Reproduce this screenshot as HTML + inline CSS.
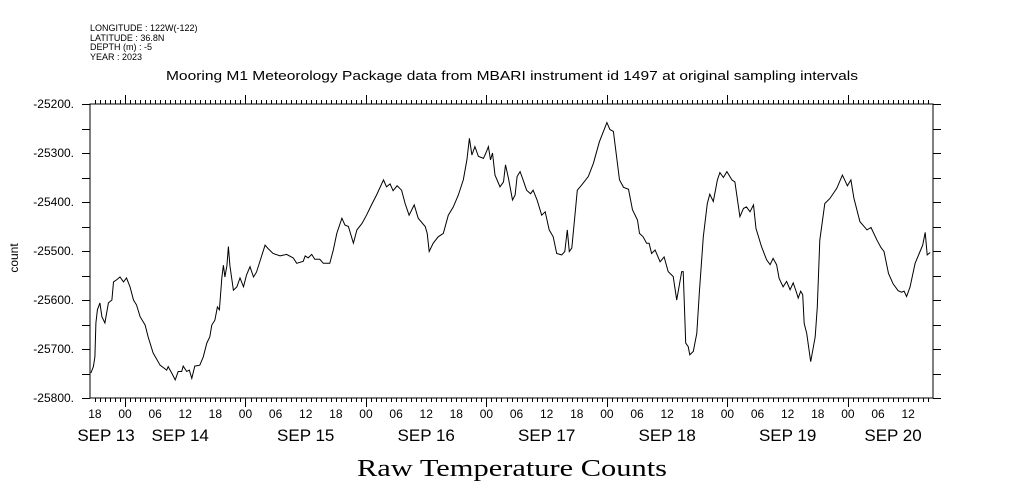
<!DOCTYPE html>
<html><head><meta charset="utf-8"><style>
html,body{margin:0;padding:0;background:#fff;}
svg{display:block;}
text{font-family:"Liberation Sans",sans-serif;fill:#000;}
</style></head><body>
<svg id="chart" width="1009" height="504" viewBox="0 0 1009 504" xmlns="http://www.w3.org/2000/svg">
<g font-size="9">
<text x="90" y="31">LONGITUDE : 122W(-122)</text>
<text x="90" y="41">LATITUDE : 36.8N</text>
<text x="90" y="50">DEPTH (m) : -5</text>
<text x="90" y="60">YEAR : 2023</text>
</g>
<text x="166" y="80" font-size="12.5" textLength="692" lengthAdjust="spacingAndGlyphs">Mooring M1 Meteorology Package data from MBARI instrument id 1497 at original sampling intervals</text>
<text transform="translate(18,258) rotate(-90)" text-anchor="middle" font-size="12">count</text>
<text x="512" y="476" text-anchor="middle" font-size="24" textLength="310" lengthAdjust="spacingAndGlyphs" style="font-family:'Liberation Serif',serif">Raw Temperature Counts</text>
<g id="axes"></g>
<g id="series"></g>
</svg>
<script>
const hours = [-6.8,-6.3,-6.0,-5.8,-5.5,-5.0,-4.6,-4.0,-3.3,-2.6,
-2.3,-1.7,-1.0,-0.3,0.3,1.0,1.7,2.3,3.0,4.0,
4.6,5.6,7.0,8.3,8.6,9.3,10.0,10.6,11.3,11.6,
12.3,12.8,13.3,13.9,14.9,15.6,16.3,16.9,17.3,17.9,
18.4,18.8,19.3,19.6,19.9,20.3,20.6,20.9,21.6,22.3,
22.9,23.6,24.2,24.9,25.6,26.2,27.2,27.9,28.5,29.5,
30.9,32.2,33.5,34.2,35.5,35.9,36.5,37.2,37.8,38.8,
39.5,40.8,41.5,42.2,43.2,43.8,44.5,45.5,46.2,
47.2,48.1,49.1,50.1,51.5,52.1,52.8,53.4,54.2,55.1,
55.8,56.6,57.6,58.4,59.8,60.2,60.6,61.4,62.4,63.4,
64.4,65.4,66.4,67.4,68.1,68.6,69.1,69.7,70.4,71.4,
71.9,72.4,72.8,73.2,73.7,74.7,75.4,75.8,76.4,77.2,
77.7,78.1,78.7,79.3,80.0,80.8,81.3,82.1,83.0,83.7,
84.5,85.3,86.0,87.0,87.6,88.1,88.5,89.0,89.6,90.1,
91.0,92.3,93.3,94.5,96.0,96.6,97.3,98.5,99.3,100.3,
101.1,102.1,
102.5,103.2,103.9,104.4,104.9,105.6,106.6,107.4,108.2,109.2,
109.9,110.9,111.2,111.7,112.2,112.5,113.2,113.9,114.4,115.2,
116.0,116.5,117.2,118.0,118.5,119.2,119.9,120.9,121.5,122.5,
123.2,123.8,124.5,125.2,125.7,126.8,127.8,128.5,129.1,129.8,
130.3,131.1,131.8,132.5,133.1,133.8,134.1,134.6,135.0,135.3,
135.8,136.6,137.5,137.9,138.4,139.4,140.4,141.8,142.9,143.9,
144.6,145.2,146.4,147.8,148.6,149.8,150.6,151.2,152.1,153.0,
154.0,154.7,155.2,155.7,156.4,157.4,158.2,158.9,159.4,159.8,
160.4];
const counts = [-25749,-25736,-25716,-25647,-25620,-25606,-25634,-25647,-25606,-25600,
-25563,-25559,-25553,-25563,-25555,-25573,-25600,-25610,-25634,-25651,
-25675,-25708,-25733,-25743,-25736,-25749,-25763,-25746,-25746,-25735,
-25746,-25743,-25760,-25735,-25733,-25716,-25688,-25675,-25651,-25641,
-25614,-25620,-25553,-25529,-25553,-25530,-25491,-25530,-25580,-25573,
-25555,-25573,-25549,-25532,-25553,-25543,-25511,-25488,-25495,-25505,
-25510,-25507,-25514,-25525,-25521,-25510,-25514,-25507,-25517,-25517,
-25525,-25525,-25498,-25464,-25433,-25447,-25450,-25484,-25457,
-25444,-25427,-25406,-25386,-25355,-25369,-25363,-25377,-25367,-25376,
-25403,-25427,-25406,-25433,-25450,-25464,-25501,-25484,-25471,-25464,
-25427,-25410,-25386,-25355,-25314,-25270,-25304,-25287,-25307,-25311,
-25300,-25287,-25314,-25300,-25345,-25369,-25359,-25324,-25352,-25396,
-25386,-25348,-25338,-25355,-25376,-25383,-25376,-25396,-25427,-25420,
-25457,-25471,-25505,-25508,-25501,-25457,-25501,-25494,-25430,-25376,
-25365,-25348,-25321,-25277,-25238,-25252,-25256,-25355,-25370,-25374,
-25416,-25437,
-25464,-25471,-25484,-25484,-25505,-25498,-25522,-25512,-25542,-25552,
-25600,-25542,-25542,-25688,-25695,-25712,-25705,-25668,-25586,-25471,
-25403,-25384,-25399,-25355,-25340,-25350,-25338,-25355,-25359,-25430,
-25413,-25410,-25420,-25406,-25454,-25491,-25518,-25528,-25515,-25528,
-25556,-25573,-25562,-25579,-25565,-25586,-25596,-25582,-25589,-25648,
-25668,-25726,-25675,-25614,-25478,-25403,-25393,-25372,-25345,-25367,
-25355,-25392,-25440,-25457,-25452,-25478,-25493,-25501,-25546,-25567,
-25581,-25584,-25582,-25593,-25573,-25525,-25505,-25488,-25462,-25508,
-25503];
const yTicks = [-25200,-25300,-25400,-25500,-25600,-25700,-25800];
const yTickLabels = ["-25200.","-25300.","-25400.","-25500.","-25600.","-25700.","-25800."];
const hourTickLabels = ["18","00","06","12"];
const dateLabels = ["SEP 13","SEP 14","SEP 15","SEP 16","SEP 17","SEP 18","SEP 19","SEP 20"];
const dateLabelHours = [-18,11,36,60,84,108,132,153];

const L=90,R=933,T=104,B=398;
const yMin=-25800,yMax=-25200;
const x0=125, pxPerHour=5.02;
function xs(h){return x0+h*pxPerHour;}
function ys(v){return B-(v-yMin)/(yMax-yMin)*(B-T);}
const NS="http://www.w3.org/2000/svg";
function mk(tag,attrs,parent){const e=document.createElementNS(NS,tag);for(const k in attrs)e.setAttribute(k,attrs[k]);parent.appendChild(e);return e;}
const ax=document.getElementById('axes');
const frame=mk('rect',{x:L,y:T,width:R-L,height:B-T,fill:'none',stroke:'#000','stroke-width':1,'shape-rendering':'crispEdges'},ax);


let tp='';
for(let v=yMin;v<=yMax;v+=50){const y=Math.round(ys(v))+0.5;tp+=`M${L-8} ${y}H${L}M${R} ${y}H${R+8}`;}
const hStart=Math.ceil((L-x0)/pxPerHour), hEnd=Math.floor((R-x0)/pxPerHour);
for(let h=hStart;h<=hEnd;h++){const x=Math.round(xs(h))+0.5;const len=(((h%24)+24)%24===0)?9:4;
 tp+=`M${x} ${T}V${T-len}M${x} ${B}V${B+len}`;}
const ticks=mk('path',{d:tp,stroke:'#000','stroke-width':1,fill:'none','shape-rendering':'crispEdges'},ax);


yTicks.forEach((v,i)=>{const t=mk('text',{x:74,y:ys(v)+4,'text-anchor':'end','font-size':12},ax);t.textContent=yTickLabels[i];
 
 });
for(let h=-6;h<=hEnd;h+=6){const idx=(((h%24)+24)%24)/6;const lab=["00","06","12","18"][idx];
 if(!hourTickLabels.includes(lab))continue;
 const t=mk('text',{x:xs(h),y:418,'text-anchor':'middle','font-size':12},ax);t.textContent=lab;
 
 }
dateLabels.forEach((d,i)=>{const t=mk('text',{x:xs(dateLabelHours[i]),y:441,'text-anchor':'middle','font-size':17},ax);t.textContent=d;
 if(i===0)t.setAttribute('x',106);
 
 });
const n=Math.min(hours.length,counts.length);
let d='';
for(let i=0;i<n;i++){d+=(i?'L':'M')+xs(hours[i]).toFixed(1)+' '+ys(counts[i]).toFixed(1);}
const line=mk('path',{d:d,fill:'none',stroke:'#000','stroke-width':1},document.getElementById('series'));


</script>
</body></html>
